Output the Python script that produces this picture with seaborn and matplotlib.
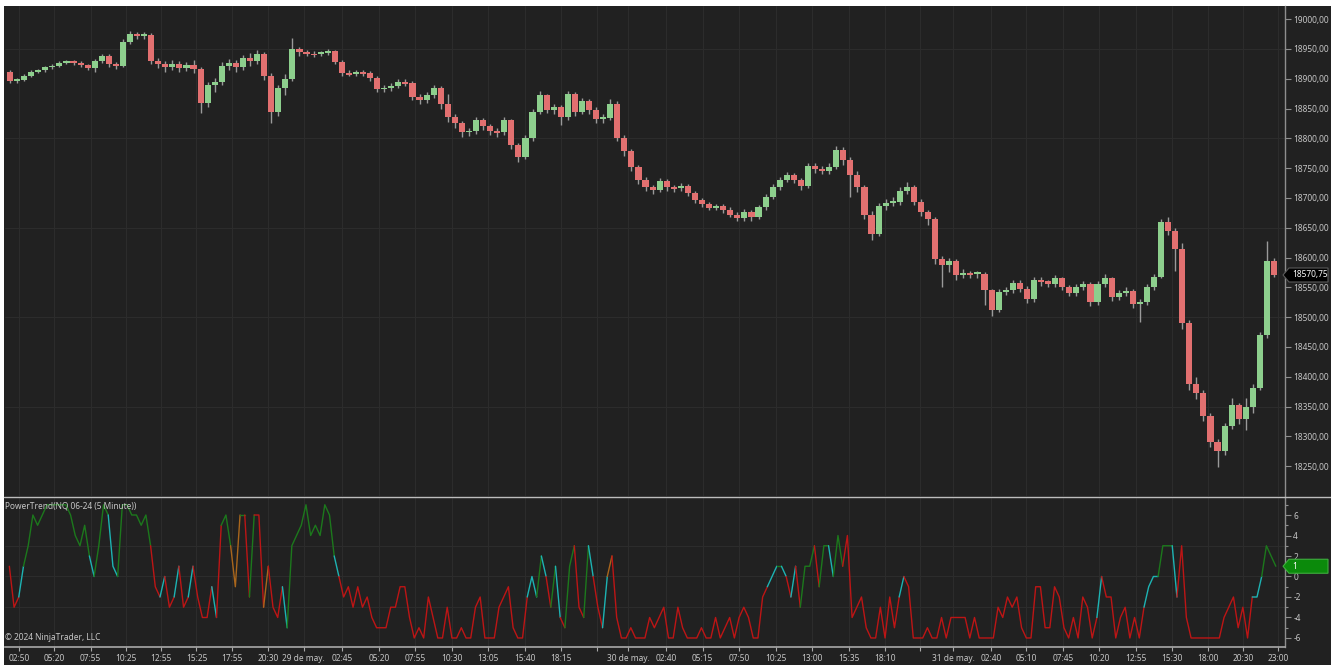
import numpy as np
import pandas as pd
import matplotlib
matplotlib.use("Agg")
import matplotlib.pyplot as plt
import seaborn as sns
from matplotlib.patches import Polygon, Rectangle
from matplotlib.lines import Line2D

# ---------------- data (30-minute candles, NQ 06-24) ----------------
first_open = 18912
close = [18897, 18898, 18905, 18912, 18914, 18919, 18921, 18927, 18929, 18927,
         18923, 18918, 18930, 18938, 18925, 18922, 18962, 18975, 18972, 18974,
         18930, 18925, 18920, 18925, 18918, 18923, 18916, 18860, 18890, 18895,
         18922, 18926, 18920, 18935, 18930, 18942, 18905, 18845, 18885, 18900,
         18950, 18944, 18942, 18941, 18943, 18946, 18928, 18910, 18908, 18911,
         18909, 18902, 18882, 18884, 18888, 18894, 18893, 18870, 18865, 18872,
         18884, 18858, 18835, 18825, 18810, 18812, 18830, 18820, 18812, 18810,
         18830, 18788, 18768, 18800, 18845, 18872, 18848, 18852, 18835, 18874,
         18845, 18862, 18848, 18832, 18834, 18858, 18800, 18778, 18752, 18730,
         18718, 18713, 18728, 18718, 18716, 18720, 18708, 18696, 18690, 18683,
         18686, 18680, 18672, 18666, 18677, 18668, 18684, 18702, 18718, 18730,
         18738, 18730, 18720, 18754, 18748, 18746, 18752, 18780, 18764, 18738,
         18718, 18672, 18640, 18686, 18692, 18693, 18712, 18718, 18694, 18676,
         18664, 18598, 18588, 18595, 18570, 18574, 18572, 18572, 18545, 18512,
         18542, 18545, 18558, 18548, 18530, 18562, 18560, 18556, 18565, 18550,
         18540, 18550, 18556, 18525, 18555, 18565, 18533, 18540, 18544, 18522,
         18525, 18550, 18568, 18660, 18645, 18615, 18490, 18388, 18372, 18335,
         18290, 18275, 18318, 18352, 18330, 18350, 18382, 18470, 18595, 18570.75]
high = [18915, 18902, 18908, 18914, 18917, 18922, 18925, 18930, 18932, 18931,
        18929, 18925, 18933, 18942, 18941, 18928, 18966, 18980, 18978, 18979,
        18976, 18934, 18930, 18931, 18929, 18928, 18931, 18920, 18895, 18902,
        18928, 18933, 18932, 18940, 18943, 18948, 18945, 18910, 18890, 18908,
        18968, 18954, 18948, 18946, 18947, 18950, 18949, 18931, 18914, 18915,
        18915, 18913, 18905, 18889, 18893, 18899, 18899, 18896, 18874, 18878,
        18890, 18888, 18874, 18840, 18829, 18818, 18835, 18834, 18824, 18817,
        18836, 18832, 18792, 18806, 18850, 18880, 18875, 18858, 18856, 18880,
        18877, 18868, 18866, 18852, 18840, 18866, 18862, 18805, 18782, 18756,
        18735, 18722, 18734, 18731, 18722, 18725, 18724, 18712, 18700, 18694,
        18690, 18690, 18684, 18676, 18681, 18680, 18689, 18707, 18723, 18735,
        18743, 18742, 18734, 18759, 18758, 18753, 18758, 18787, 18785, 18768,
        18745, 18722, 18678, 18691, 18698, 18702, 18718, 18726, 18722, 18698,
        18680, 18668, 18602, 18600, 18598, 18580, 18578, 18577, 18576, 18548,
        18547, 18551, 18563, 18562, 18552, 18568, 18567, 18563, 18570, 18568,
        18554, 18556, 18561, 18559, 18560, 18573, 18568, 18546, 18550, 18548,
        18530, 18555, 18573, 18665, 18668, 18650, 18625, 18495, 18400, 18378,
        18340, 18295, 18322, 18365, 18356, 18365, 18388, 18475, 18627, 18600]
low = [18892, 18893, 18896, 18903, 18909, 18911, 18916, 18919, 18924, 18923,
       18919, 18914, 18912, 18927, 18920, 18916, 18919, 18958, 18966, 18966,
       18925, 18918, 18912, 18914, 18912, 18913, 18910, 18842, 18852, 18878,
       18890, 18915, 18912, 18915, 18922, 18925, 18898, 18826, 18838, 18872,
       18896, 18938, 18938, 18937, 18938, 18939, 18924, 18905, 18904, 18904,
       18905, 18897, 18877, 18878, 18880, 18884, 18888, 18864, 18858, 18860,
       18868, 18850, 18828, 18818, 18803, 18804, 18808, 18814, 18806, 18802,
       18806, 18782, 18760, 18765, 18796, 18840, 18842, 18840, 18822, 18830,
       18838, 18840, 18840, 18825, 18826, 18830, 18795, 18770, 18745, 18724,
       18712, 18707, 18710, 18712, 18710, 18712, 18703, 18692, 18685, 18679,
       18679, 18675, 18668, 18661, 18662, 18662, 18664, 18680, 18698, 18714,
       18726, 18725, 18714, 18716, 18742, 18740, 18741, 18748, 18755, 18702,
       18710, 18665, 18630, 18636, 18680, 18686, 18688, 18706, 18688, 18670,
       18655, 18590, 18550, 18575, 18563, 18565, 18566, 18565, 18520, 18502,
       18508, 18538, 18540, 18543, 18524, 18526, 18553, 18550, 18550, 18545,
       18535, 18536, 18545, 18518, 18520, 18550, 18527, 18528, 18535, 18516,
       18492, 18520, 18545, 18565, 18638, 18578, 18480, 18378, 18362, 18325,
       18282, 18248, 18268, 18312, 18320, 18310, 18340, 18378, 18465, 18568]

# PowerTrend oscillator (20-minute samples) and its per-sample colour state
osc_values = [1, -3, -2, 1, 3, 6, 5, 6, 7, 7,
              7, 7, 7, 6, 4, 3, 5, 2, 0, 3,
              7, 6, 1, 0, 7, 7, 6, 6, 5, 6,
              3, -1, -2, 0, -3, -2, 1, -3, -2, 1,
              -2, -4, -4, -1, -4, 5, 6, 3, -1, 6,
              6, -2, 6, 6, -3, 1, -3, -4, -1, -5,
              3, 4, 5, 7, 4, 5, 4, 7, 6, 2,
              0, -2, -1, -3, -1, -3, -2, -4, -5, -5,
              -5, -3, -3, -1, -1, -4, -6, -5, -6, -2,
              -4, -6, -6, -3, -6, -6, -5, -6, -6, -3,
              -2, -6, -6, -6, -3, -2, -1, -5, -6, -6,
              -2, 0, -2, 2, 0, -3, 1, -4, -5, 1,
              3, -3, -4, 3, 0, -3, -5, 0, 2, -4,
              -6, -6, -5, -6, -6, -6, -4, -5, -4, -3,
              -6, -6, -3, -5, -6, -6, -6, -5, -6, -6,
              -4, -6, -5, -4, -6, -4, -3, -4, -6, -6,
              -2, -1, 0, 1, 1, 0, -2, 1, -3, 1,
              1, 3, -1, 3, 3, 0, 4, 1, 4, -4,
              -3, -2, -5, -6, -6, -3, -6, -2, -5, -2,
              0, -1, -6, -6, -6, -5, -6, -6, -4, -6,
              -4, -4, -4, -4, -6, -4, -6, -6, -6, -6,
              -3, -4, -2, -3, -2, -5, -6, -6, -1, -1,
              -5, -5, -1, -2, -5, -6, -4, -6, -2, -3,
              -6, -4, 0, -2, -2, -6, -4, -3, -6, -4,
              -6, -3, -1, 0, 0, 3, 3, 3, -2, 3,
              -4, -6, -6, -6, -6, -6, -6, -6, -4, -3,
              -2, -5, -3, -6, -2, -2, 0, 3, 2, 1]
osc_states = ("crrcgggggg" "ggggggggcg" "ggccgggggg" "grrcrrcrrc" "rrrrcrggoo"
              "grgrrorrrc" "gggggggggg" "crrrrrrrrr" "rrrrrrrrrr" "rrrrrrrrrr"
              "rrrrrrrrrr" "rccgcrgcrg" "grrgcrrcor" "rrrrrrrrrr" "rrrrrrrrrr"
              "rrrrrrrrrr" "rrccgcrcrg" "ggrggcggrr" "rrrrrrrrrr" "crrrrrrrrr"
              "rrrrrrrrrr" "rrrrrrrrrr" "rrrrrrrrrr" "rrcrrrrrrr" "rrcccgggcr"
              "rrrrrrrrrr" "rrrrrccggg")

# x-axis ticks: (day index 0=28 may, time) and labels
tick_day = [0, 0, 0, 0, 0, 0, 0, 0,
            1, 1, 1, 1, 1, 1, 1, 1, 1,
            2, 2, 2, 2, 2, 2, 2, 2, 2,
            3, 3, 3, 3, 3, 3, 3, 3, 3, 3]
tick_time = ["02:50", "05:20", "07:55", "10:25", "12:55", "15:25", "17:55", "20:30",
             "00:00", "02:45", "05:20", "07:55", "10:30", "13:05", "15:40", "18:15", "20:45",
             "00:00", "02:40", "05:15", "07:50", "10:25", "13:00", "15:35", "18:10", "20:40",
             "00:00", "02:40", "05:10", "07:45", "10:20", "12:55", "15:30", "18:00", "20:30", "23:00"]
tick_label = ["02:50", "05:20", "07:55", "10:25", "12:55", "15:25", "17:55", "20:30",
              "29 de may.", "02:45", "05:20", "07:55", "10:30", "13:05", "15:40", "18:15", "",
              "30 de may.", "02:40", "05:15", "07:50", "10:25", "13:00", "15:35", "18:10", "",
              "31 de may.", "02:40", "05:10", "07:45", "10:20", "12:55", "15:30", "18:00", "20:30", "23:00"]
price_ticks = list(range(18250, 19001, 50))
price_grid = [18350, 18500, 18650, 18800, 18950]
osc_ticks = [-6, -4, -2, 0, 2, 4, 6]
osc_minor = [-5, -3, -1, 1, 3, 5, 7]
osc_grid = [-3, 0, 3]
last_price = 18570.75
last_osc = 1

# ---------------- style ----------------
W, H = 1331, 665
BG = "#212121"
GRID = "#2c2c2c"
TXT = "#c6c6c6"
SPINE = "#8e8e8e"
UP, DOWN, WICK = "#8dcf8d", "#e27070", "#9a9a9a"
STATE_COL = {"g": "#1c781c", "r": "#bd1515", "c": "#1db3b3", "o": "#a9661c"}

sns.set_theme(style="dark", rc={"axes.facecolor": BG, "figure.facecolor": "white"})
plt.rcParams["font.family"] = ["Noto Sans", "DejaVu Sans"]

fig = plt.figure(figsize=(W / 100, H / 100), dpi=100, facecolor="white")
fig.patches.append(Rectangle((4 / W, 0), 1 - 4 / W, (H - 6) / H, transform=fig.transFigure,
                             facecolor=BG, edgecolor="none", zorder=-10))
ax1 = fig.add_axes([5 / W, (H - 496) / H, 1280 / W, 490 / H])
ax2 = fig.add_axes([5 / W, (H - 647) / H, 1280 / W, 149 / H], sharex=ax1)
for ax in (ax1, ax2):
    ax.set_facecolor(BG)
    for s in ("top", "left", "bottom"):
        ax.spines[s].set_visible(False)
    ax.spines["right"].set_color(SPINE)
    ax.spines["right"].set_linewidth(1.0)
ax2.spines["bottom"].set_visible(True)
ax2.spines["bottom"].set_color("#a8a8a8")
ax2.spines["bottom"].set_linewidth(1.2)

day_offset = [-24, 252, 528, 804]
tick_pos = [day_offset[d] + (int(t[:2]) * 60 + int(t[3:])) / 5 for d, t in zip(tick_day, tick_time)]

# grid
for ax in (ax1, ax2):
    for tp in tick_pos:
        ax.axvline(tp, color=GRID, lw=0.8, zorder=0)
for g in price_grid:
    ax1.axhline(g, color=GRID, lw=0.8, zorder=0)
for g in osc_grid:
    ax2.axhline(g, color=GRID, lw=0.8, zorder=0)

# ---------------- candles ----------------
c = np.array(close, float)
o = np.array([first_open] + close[:-1], float)
hi = np.array(high, float)
lo = np.array(low, float)
xc = 6 * np.arange(len(c)) + 2.5
ax1.vlines(xc, lo, hi, color=WICK, lw=1.0, zorder=2)
body = c - o
body = np.where(np.abs(body) < 3.0, np.where(body >= 0, 3.0, -3.0), body)
up = c >= o
ax1.bar(xc[up], body[up], bottom=o[up], width=5.2, color=UP, linewidth=0, zorder=3)
ax1.bar(xc[~up], body[~up], bottom=o[~up], width=5.2, color=DOWN, linewidth=0, zorder=3)

# ---------------- oscillator ----------------
xo = 4 * np.arange(len(osc_values)) + 2
vals = np.array(osc_values, float)
n = len(vals)
start = 1
runs = []
for i in range(2, n + 1):
    if i == n or osc_states[i] != osc_states[start]:
        runs.append((start, i))
        start = i
for s, e in runs:
    df = pd.DataFrame({"x": xo[s - 1:e], "y": vals[s - 1:e]})
    sns.lineplot(data=df, x="x", y="y", ax=ax2, color=STATE_COL[osc_states[s]],
                 lw=1.0, sort=False, estimator=None, legend=False, zorder=3)
ax2.set_xlabel("")
ax2.set_ylabel("")

# ---------------- axes, ticks ----------------
ax1.set_xlim(-1.7, 1085.8)
ax1.set_ylim(18200, 19022)
ax2.set_ylim(-6.88, 7.66)

ax1.yaxis.tick_right()
ax1.set_yticks(price_ticks)
ax1.set_yticklabels([f"{v:.2f}".replace(".", ",") for v in price_ticks])
ax1.tick_params(axis="y", which="major", right=True, length=4, width=0.8, color=SPINE,
                labelcolor=TXT, labelsize=6, pad=2)
ax1.tick_params(axis="x", bottom=False, labelbottom=False)

ax2.yaxis.tick_right()
ax2.set_yticks(osc_ticks)
ax2.set_yticks(osc_minor, minor=True)
ax2.set_yticklabels([str(v) for v in osc_ticks])
ax2.tick_params(axis="y", which="major", right=True, length=4, width=0.8, color=SPINE,
                labelcolor=TXT, labelsize=6, pad=2)
ax2.tick_params(axis="y", which="minor", right=True, length=2.5, width=0.8, color=SPINE)
ax2.set_xticks(tick_pos)
ax2.set_xticklabels(tick_label)
ax2.tick_params(axis="x", bottom=True, length=3, width=0.8, color="#a8a8a8",
                labelcolor=TXT, labelsize=6, pad=2)

# separator between panels
fig.add_artist(Line2D([4 / W, 1], [1 - 497 / H, 1 - 497 / H], transform=fig.transFigure,
                      color="#bdbdbd", lw=1.0))

# panel texts
fig.text(5 / W, 1 - 506 / H, "PowerTrend(NQ 06-24 (5 Minute))", color=TXT, fontsize=6, va="center", ha="left")
fig.text(5 / W, 1 - 637 / H, "\u00a9 2024 NinjaTrader, LLC", color=TXT, fontsize=6, va="center", ha="left")


# ---------------- value tags ----------------
def tag(ax, value, text, face, edge):
    fig.canvas.draw()
    _, yd = ax.transData.transform((0, value))
    yf = yd / H
    hh = 7 / H
    pts = [(1283 / W, yf), (1289 / W, yf + hh), (1328 / W, yf + hh), (1328 / W, yf - hh), (1289 / W, yf - hh)]
    fig.patches.append(Polygon(pts, closed=True, transform=fig.transFigure, facecolor=face,
                               edgecolor=edge, lw=0.8, zorder=5))
    fig.text(1292 / W, yf, text, color="white", fontsize=6, va="center", ha="left", zorder=6)


tag(ax1, last_price, f"{last_price:.2f}".replace(".", ","), "#000000", "#5a5a5a")
tag(ax2, last_osc, str(last_osc), "#0b8a0b", "#3fae3f")

fig.savefig("out.png", dpi=100, facecolor="white")
